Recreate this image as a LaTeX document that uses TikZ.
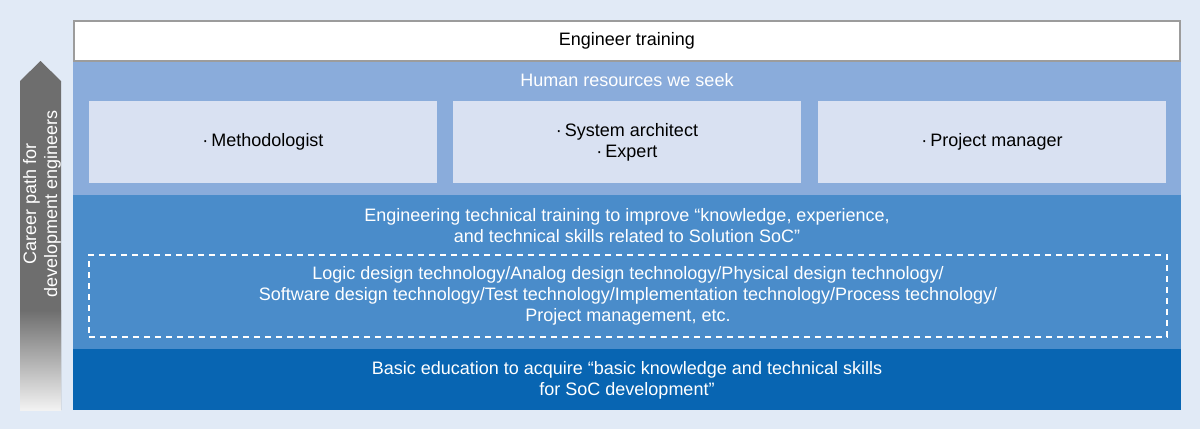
\documentclass[tikz,border=0pt]{standalone}
\usepackage{fontspec}
\setmainfont{Liberation Sans}
\definecolor{pagebg}{HTML}{E1EAF6}
\definecolor{framegray}{HTML}{9C9C9C}
\definecolor{seekblue}{HTML}{8AACDB}
\definecolor{rolefill}{HTML}{D9E1F2}
\definecolor{techblue}{HTML}{4A8CCA}
\definecolor{basicblue}{HTML}{0865B2}
\definecolor{pathgray}{HTML}{6E6E6E}
\begin{document}
\begin{tikzpicture}[y=1pt, x=1pt, yscale=-1, inner sep=0pt, outer sep=0pt,
  txt/.style={font=\fontsize{18}{21}\selectfont, align=center},
  band/.style={minimum width=1108pt, anchor=north, draw=none},
  rolebox/.style={txt, fill=rolefill, minimum width=348pt, minimum height=82pt, text=black},
  pathlabel/.style={txt, text=white, rotate=90}]
\useasboundingbox (0,0) rectangle (1200,429);
\path[fill=pagebg] (0,0) rectangle (1200,429);
% career path arrow
\path[fill=pathgray] (20,410) -- (20,81) -- (40.5,61) -- (61,81) -- (61,410) -- cycle;
\shade[top color=pathgray, bottom color=white!95!black] (20,310) rectangle (61,410);
\node[pathlabel] (career) at (42,204) {Career path for\\development engineers};
% bands
\node[band, fill=seekblue, minimum height=134pt] (seek) at (627,61) {};
\node[band, fill=techblue, minimum height=154pt] (tech) at (627,195) {};
\node[band, fill=basicblue, minimum height=61pt] (basic) at (627,349) {};
\node[txt, draw=framegray, line width=2pt, fill=white, minimum width=1106pt, minimum height=40pt] (training) at (627,41) {Engineer training};
\node[txt, text=white] (seeklabel) at (627,80) {Human resources we seek};
\node[rolebox] (method) at (263,142) {·\,Methodologist};
\node[rolebox] (architect) at (627,142) {·\,System architect\\·\,Expert};
\node[rolebox] (manager) at (992,142) {·\,Project manager};
\node[txt, text=white] (techlabel) at (627,226) {Engineering technical training to improve “knowledge, experience,\\and technical skills related to Solution SoC”};
\node[txt, text=white, draw=white, line width=2pt, dash pattern=on 6pt off 5pt, minimum width=1078pt, minimum height=82pt] (fields) at (628,296) {Logic design technology/Analog design technology/Physical design technology/\\Software design technology/Test technology/Implementation technology/Process technology/\\Project management, etc.};
\node[txt, text=white] (basiclabel) at (627,380) {Basic education to acquire “basic knowledge and technical skills\\for SoC development”};
\end{tikzpicture}
\end{document}
